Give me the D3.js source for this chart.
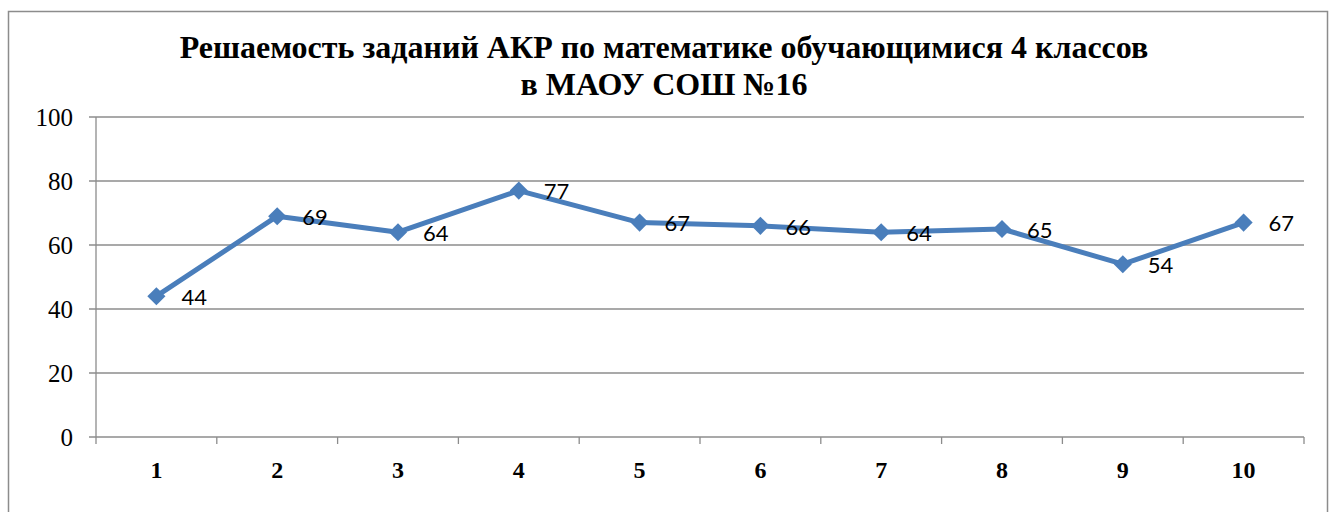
<!DOCTYPE html>
<html><head><meta charset="utf-8">
<script src="https://cdn.jsdelivr.net/npm/d3@7"></script>
<style>body{margin:0;background:#fff} .serif{font-family:"Liberation Serif","Times New Roman",Times,serif}</style>
</head><body>
<svg id="c" width="1333" height="512"></svg>
<script>
const categories = ["1","2","3","4","5","6","7","8","9","10"];
const values = [44, 69, 64, 77, 67, 66, 64, 65, 54, 67];
const yTicks = [0, 20, 40, 60, 80, 100];
const titleLines = ["Решаемость заданий АКР по математике обучающимися 4 классов", "в МАОУ СОШ №16"];

const svg = d3.select("#c");
const m = {left: 96, right: 1304, top: 117, bottom: 437};

svg.append("rect").attr("x", 8.5).attr("y", 11.5).attr("width", 1319).attr("height", 520)
  .attr("fill", "none").attr("stroke", "#8c8c8c").attr("stroke-width", 1.5);

const x = d3.scaleBand().domain(categories).range([m.left, m.right]);
const y = d3.scaleLinear().domain([0, 100]).range([m.bottom, m.top]);

svg.append("g").selectAll("line").data(yTicks).join("line")
  .attr("x1", m.left - 7).attr("x2", m.right)
  .attr("y1", d => y(d)).attr("y2", d => y(d))
  .attr("stroke", "#8c8c8c").attr("stroke-width", 1.3);

svg.append("line").attr("x1", m.left).attr("x2", m.left).attr("y1", m.top).attr("y2", m.bottom + 7)
  .attr("stroke", "#8c8c8c").attr("stroke-width", 1.3);

const bounds = categories.map(c => x(c)).concat([m.right]);
svg.append("g").selectAll("line").data(bounds.slice(1)).join("line")
  .attr("x1", d => d).attr("x2", d => d).attr("y1", m.bottom).attr("y2", m.bottom + 7)
  .attr("stroke", "#8c8c8c").attr("stroke-width", 1.3);

svg.append("g").selectAll("text").data(yTicks).join("text")
  .attr("class", "serif")
  .attr("x", m.left - 23).attr("y", d => y(d)).attr("dy", "0.35em")
  .attr("text-anchor", "end").attr("font-size", 25)
  .text(d => d);

svg.append("g").selectAll("text").data(categories).join("text")
  .attr("class", "serif")
  .attr("x", d => x(d) + x.bandwidth() / 2).attr("y", 470).attr("dy", "0.35em")
  .attr("text-anchor", "middle").attr("font-weight", "bold").attr("font-size", 24)
  .text(d => d);

svg.append("g").selectAll("text").data(titleLines).join("text")
  .attr("class", "serif")
  .attr("x", 664).attr("y", (d, i) => 58 + i * 37)
  .attr("text-anchor", "middle").attr("font-weight", "bold").attr("font-size", 32)
  .text(d => d);

const pts = categories.map((c, i) => ({c, v: values[i]}));
const line = d3.line().x(d => x(d.c) + x.bandwidth() / 2).y(d => y(d.v));
svg.append("path").datum(pts).attr("d", line).attr("fill", "none")
  .attr("stroke", "#4a7ebb").attr("stroke-width", 5).attr("stroke-linejoin", "round");

svg.append("g").selectAll("path").data(pts).join("path")
  .attr("d", d3.symbol().type(d3.symbolDiamond2).size(210))
  .attr("transform", d => `translate(${x(d.c) + x.bandwidth() / 2},${y(d.v)})`)
  .attr("fill", "#4a7ebb");

svg.append("g").selectAll("text").data(pts).join("text")
  .attr("x", d => x(d.c) + x.bandwidth() / 2 + 25).attr("y", d => y(d.v) + 1).attr("dy", "0.35em")
  .attr("font-family", "Lato, 'Open Sans', sans-serif").attr("font-size", 22)
  .text(d => d.v);
</script>
</body></html>
